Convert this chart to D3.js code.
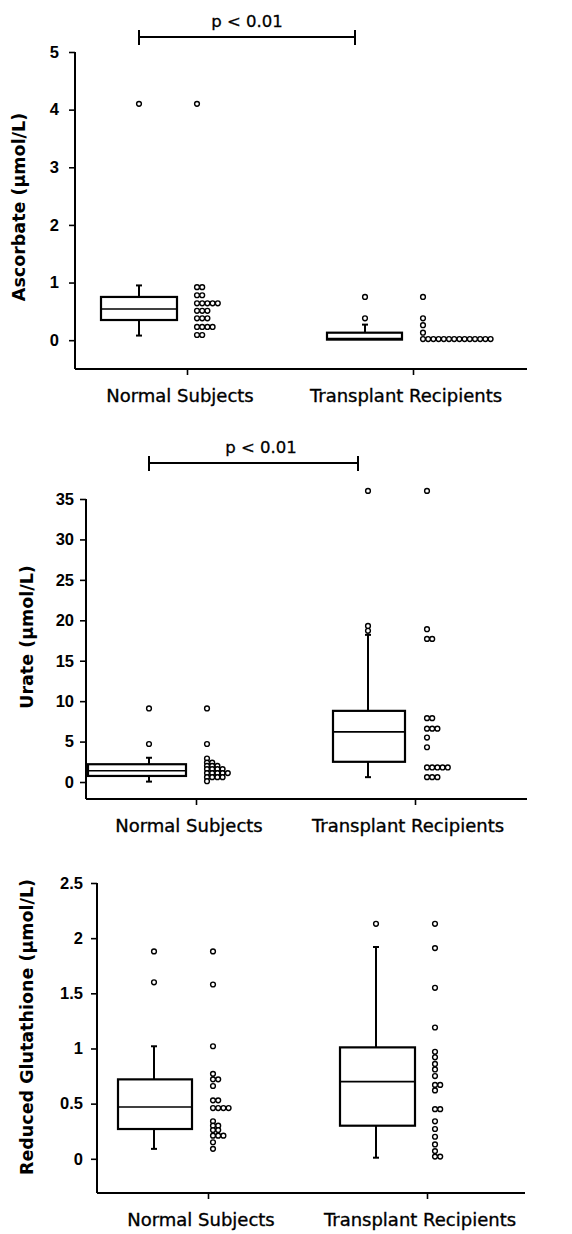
<!DOCTYPE html>
<html>
<head>
<meta charset="UTF-8">
<script src="https://d3js.org/d3.v7.min.js"></script>
<style>
  body { margin: 0; background: #fff; }
  svg { font-family: "DejaVu Sans", sans-serif; background: #fff; }
  .yaxis .tick text { font-weight: bold; font-size: 16.5px; fill: #000; }
  .tick line { stroke: #000; stroke-width: 1.6; }
  .ytitle { font-weight: bold; font-size: 17.5px; }
  .cat { font-size: 18px; stroke: #000; stroke-width: 0.35px; }
  .ptext { font-size: 16.5px; stroke: #000; stroke-width: 0.3px; }
</style>
</head>
<body>
<div id="chart"></div>
<script>
const groups = ["Normal Subjects", "Transplant Recipients"];

// Ascorbate (µmol/L): box = [low whisker, q1, median, q3, high whisker]
const ascorbateTicks = [0, 1, 2, 3, 4, 5];
const ascorbateBoxes = [[0.08, 0.35, 0.54, 0.75, 0.95], [0.01, 0.01, 0.03, 0.13, 0.27]];
const ascorbateOutliers = [[4.1], [0.38, 0.75]];
const ascorbateNormal = [4.1, 0.92, 0.92, 0.78, 0.78, 0.64, 0.64, 0.64, 0.64, 0.64,
  0.51, 0.51, 0.51, 0.38, 0.38, 0.38, 0.23, 0.23, 0.23, 0.23, 0.09, 0.09];
const ascorbateTransplant = [0.75, 0.38, 0.26, 0.13, 0.02, 0.02, 0.02, 0.02, 0.02,
  0.02, 0.02, 0.02, 0.02, 0.02, 0.02, 0.02, 0.02, 0.02];

// Urate (µmol/L)
const urateTicks = [0, 5, 10, 15, 20, 25, 30, 35];
const urateBoxes = [[0.05, 0.75, 1.4, 2.2, 3.0], [0.6, 2.5, 6.2, 8.8, 18.2]];
const urateOutliers = [[4.7, 9.1], [18.7, 19.3, 36]];
const urateNormal = [9.1, 4.7, 2.9, 2.4, 2.4, 2.0, 2.0, 2.0, 1.6, 1.6, 1.6, 1.6,
  1.1, 1.1, 1.1, 1.1, 1.1, 0.6, 0.6, 0.6, 0.6, 0.1];
const urateTransplant = [36, 18.9, 17.7, 17.7, 7.9, 7.9, 6.6, 6.6, 6.6, 5.5, 4.3,
  1.8, 1.8, 1.8, 1.8, 1.8, 0.6, 0.6, 0.6];

// Reduced glutathione (µmol/L)
const gshTicks = [0, 0.5, 1, 1.5, 2, 2.5];
const gshBoxes = [[0.09, 0.27, 0.47, 0.72, 1.02], [0.01, 0.30, 0.70, 1.01, 1.92]];
const gshOutliers = [[1.6, 1.88], [2.13]];
const gshNormal = [1.88, 1.58, 1.02, 0.77, 0.72, 0.72, 0.66, 0.53, 0.53, 0.46, 0.46,
  0.46, 0.46, 0.34, 0.30, 0.30, 0.26, 0.26, 0.21, 0.21, 0.21, 0.15, 0.09];
const gshTransplant = [2.13, 1.91, 1.55, 1.19, 0.97, 0.92, 0.86, 0.81, 0.75, 0.67,
  0.67, 0.62, 0.45, 0.45, 0.34, 0.27, 0.20, 0.13, 0.07, 0.02, 0.02];

const width = 572, height = 1234;

const panels = [
  { title: "Ascorbate (µmol/L)", ticks: ascorbateTicks, boxes: ascorbateBoxes,
    outliers: ascorbateOutliers, dots: [ascorbateNormal, ascorbateTransplant],
    yDomain: [-0.5, 5], yRange: [369, 52], x0: 75, x1: 527, cats: [187, 413],
    boxSpan: [[-86, -10], [-86, -11]], whisker: [-48, -48], dotOff: [10, 10],
    pad: 10, titlePos: [25, 207], bracket: { y: 37, text: "p < 0.01", tx: 247 } },
  { title: "Urate (µmol/L)", ticks: urateTicks, boxes: urateBoxes,
    outliers: urateOutliers, dots: [urateNormal, urateTransplant],
    yDomain: [-2.1, 35], yRange: [799, 499], x0: 86, x1: 527, cats: [196, 415],
    boxSpan: [[-108, -10], [-82, -10]], whisker: [-47, -47], dotOff: [11, 12],
    pad: 6, titlePos: [33, 637], bracket: { y: 463, text: "p < 0.01", tx: 261 } },
  { title: "Reduced Glutathione (µmol/L)", ticks: gshTicks, boxes: gshBoxes,
    outliers: gshOutliers, dots: [gshNormal, gshTransplant],
    yDomain: [-0.31, 2.5], yRange: [1193, 883], x0: 97, x1: 525, cats: [208, 427],
    boxSpan: [[-90, -16], [-87, -12]], whisker: [-54, -51], dotOff: [5, 8],
    pad: 8, titlePos: [33, 1027], bracket: null }
];

const svg = d3.select("#chart").append("svg")
  .attr("width", width)
  .attr("height", height);

const r = 2.4, dotStep = 5.2;

panels.forEach(p => {
  const g = svg.append("g");
  const y = d3.scaleLinear().domain(p.yDomain).range(p.yRange);
  const x = d3.scalePoint().domain(groups).range(p.cats);
  const yBottom = y(p.yDomain[0]);

  // y axis ticks and labels
  g.append("g")
    .attr("class", "yaxis")
    .attr("transform", `translate(${p.x0},0)`)
    .call(d3.axisLeft(y).tickValues(p.ticks).tickSize(6).tickPadding(p.pad).tickFormat(d => d))
    .select(".domain").remove();

  // x axis ticks
  g.append("g")
    .attr("transform", `translate(0,${yBottom})`)
    .call(d3.axisBottom(x).tickSize(6).tickFormat(""))
    .select(".domain").remove();

  // axis lines
  g.append("line")
    .attr("x1", p.x0).attr("x2", p.x0)
    .attr("y1", y(p.yDomain[1])).attr("y2", yBottom)
    .attr("stroke", "#000").attr("stroke-width", 2);
  g.append("line")
    .attr("x1", p.x0).attr("x2", p.x1)
    .attr("y1", yBottom).attr("y2", yBottom)
    .attr("stroke", "#000").attr("stroke-width", 2);

  // category labels
  g.selectAll("text.cat")
    .data(groups)
    .enter()
    .append("text")
    .attr("class", "cat")
    .attr("x", d => x(d) - 7)
    .attr("y", yBottom + 33)
    .attr("text-anchor", "middle")
    .text(d => d);

  // y title
  g.append("text")
    .attr("class", "ytitle")
    .attr("transform", `translate(${p.titlePos[0]},${p.titlePos[1]}) rotate(-90)`)
    .attr("text-anchor", "middle")
    .text(p.title);

  groups.forEach((grp, gi) => {
    const cx = x(grp);
    const [lo, q1, med, q3, hi] = p.boxes[gi];
    const wx = cx + p.whisker[gi];
    const bl = cx + p.boxSpan[gi][0], br = cx + p.boxSpan[gi][1];

    // whiskers with caps
    [[q3, hi], [q1, lo]].forEach(([a, b]) => {
      if (a === b) return;
      g.append("line")
        .attr("x1", wx).attr("x2", wx)
        .attr("y1", y(a)).attr("y2", y(b))
        .attr("stroke", "#000").attr("stroke-width", 2);
      g.append("line")
        .attr("x1", wx - 3).attr("x2", wx + 3)
        .attr("y1", y(b)).attr("y2", y(b))
        .attr("stroke", "#000").attr("stroke-width", 2);
    });

    // box
    g.append("rect")
      .attr("x", bl)
      .attr("y", y(q3))
      .attr("width", br - bl)
      .attr("height", y(q1) - y(q3))
      .attr("fill", "#fff")
      .attr("stroke", "#000")
      .attr("stroke-width", 2.2);
    g.append("line")
      .attr("x1", bl).attr("x2", br)
      .attr("y1", y(med)).attr("y2", y(med))
      .attr("stroke", "#000").attr("stroke-width", 1.6);

    // outliers
    g.selectAll(null)
      .data(p.outliers[gi])
      .enter()
      .append("circle")
      .attr("cx", wx)
      .attr("cy", d => y(d))
      .attr("r", r)
      .attr("fill", "#fff")
      .attr("stroke", "#000")
      .attr("stroke-width", 1.4);

    // dot column, equal values spread sideways
    const seen = new Map();
    const pts = p.dots[gi].map(v => {
      const k = seen.get(v) || 0;
      seen.set(v, k + 1);
      return { v, k };
    });
    g.selectAll(null)
      .data(pts)
      .enter()
      .append("circle")
      .attr("cx", d => cx + p.dotOff[gi] + d.k * dotStep)
      .attr("cy", d => y(d.v))
      .attr("r", r)
      .attr("fill", "#fff")
      .attr("stroke", "#000")
      .attr("stroke-width", 1.4);
  });

  // significance bracket
  if (p.bracket) {
    const bx1 = x(groups[0]) + p.whisker[0];
    const bx2 = x(groups[1]) + p.whisker[1] - 10;
    const by = p.bracket.y;
    g.append("line")
      .attr("x1", bx1).attr("x2", bx2)
      .attr("y1", by).attr("y2", by)
      .attr("stroke", "#000").attr("stroke-width", 2);
    [bx1, bx2].forEach(bx => {
      g.append("line")
        .attr("x1", bx).attr("x2", bx)
        .attr("y1", by - 7).attr("y2", by + 8)
        .attr("stroke", "#000").attr("stroke-width", 2);
    });
    g.append("text")
      .attr("class", "ptext")
      .attr("x", p.bracket.tx)
      .attr("y", by - 10)
      .attr("text-anchor", "middle")
      .text(p.bracket.text);
  }
});
</script>
</body>
</html>
